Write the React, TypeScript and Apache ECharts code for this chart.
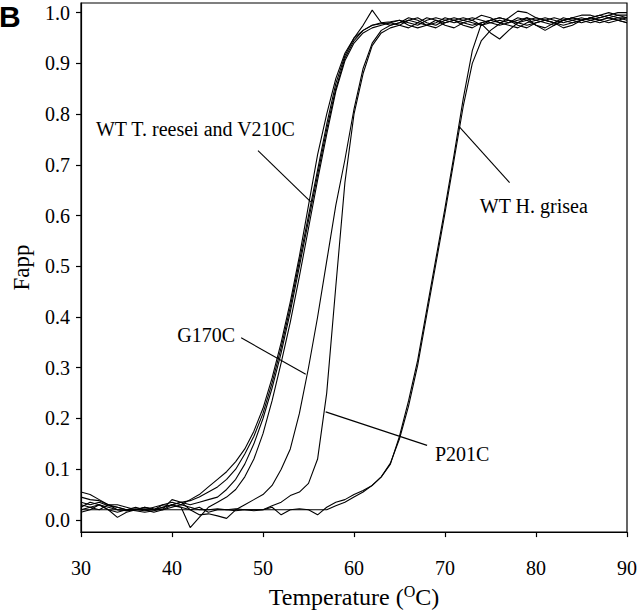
import React, { useEffect, useRef } from "react";
import * as echarts from "echarts";

// Temperature grid (°C)
const temperatures = [
  30, 31, 32, 33, 34, 35, 36, 37, 38, 39,
  40, 41, 42, 43, 44, 45, 46, 47, 48, 49,
  50, 51, 52, 53, 54, 55, 56, 57, 58, 59,
  60, 61, 62, 63, 64, 65, 66, 67, 68, 69,
  70, 71, 72, 73, 74, 75, 76, 77, 78, 79,
  80, 81, 82, 83, 84, 85, 86, 87, 88, 89,
  90,
];

// Fapp curves
const wtReeseiA = [
  0.055, 0.050, 0.040, 0.030, 0.025, 0.020, 0.022, 0.020, 0.025, 0.030,
  0.035, 0.030, 0.040, 0.050, 0.065, 0.080, 0.095, 0.115, 0.140, 0.175,
  0.220, 0.280, 0.350, 0.430, 0.520, 0.620, 0.720, 0.800, 0.870, 0.920,
  0.950, 0.975, 1.005, 0.980, 0.982, 0.985, 0.980, 0.975, 0.985, 0.990,
  0.985, 0.980, 0.985, 0.990, 0.985, 0.980, 0.975, 0.980, 0.985, 0.990,
  0.985, 0.980, 0.975, 0.985, 0.990, 0.985, 0.990, 0.995, 0.990, 0.985,
  0.990,
];
const wtReeseiB = [
  0.045, 0.040, 0.038, 0.030, 0.020, 0.018, 0.020, 0.022, 0.020, 0.025,
  0.030, 0.035, 0.038, 0.045, 0.055, 0.065, 0.080, 0.100, 0.130, 0.165,
  0.210, 0.270, 0.340, 0.420, 0.510, 0.600, 0.690, 0.780, 0.860, 0.915,
  0.950, 0.965, 0.975, 0.978, 0.980, 0.975, 0.970, 0.980, 0.990, 0.985,
  0.975, 0.970, 0.980, 0.985, 0.995, 0.990, 0.980, 0.985, 0.980, 0.975,
  0.980, 0.985, 0.990, 0.985, 0.980, 0.985, 0.990, 0.985, 0.990, 0.995,
  0.995,
];
const v210cA = [
  0.035, 0.030, 0.035, 0.028, 0.025, 0.020, 0.018, 0.015, 0.018, 0.022,
  0.040, 0.035, 0.030, 0.035, 0.040, 0.045, 0.060, 0.080, 0.110, 0.150,
  0.200, 0.260, 0.330, 0.410, 0.500, 0.590, 0.680, 0.770, 0.850, 0.910,
  0.945, 0.965, 0.975, 0.980, 0.975, 0.980, 0.985, 0.980, 0.975, 0.980,
  0.990, 0.985, 0.975, 0.970, 0.980, 0.985, 0.990, 0.985, 0.975, 0.970,
  0.980, 0.985, 0.980, 0.970, 0.975, 0.985, 0.990, 0.985, 0.980, 0.985,
  0.980,
];
const v210cB = [
  0.025, 0.035, 0.030, 0.020, 0.005, 0.015, 0.020, 0.025, 0.020, 0.025,
  0.030, 0.025, -0.015, 0.005, 0.025, 0.035, 0.045, 0.060, 0.085, 0.120,
  0.170, 0.235, 0.310, 0.390, 0.480, 0.575, 0.670, 0.760, 0.845, 0.905,
  0.940, 0.960, 0.970, 0.975, 0.980, 0.985, 0.975, 0.970, 0.975, 0.985,
  0.980, 0.985, 0.990, 0.985, 0.975, 0.980, 0.985, 0.980, 0.990, 0.985,
  0.975, 0.970, 0.980, 0.990, 0.985, 0.980, 0.985, 0.990, 0.995, 0.990,
  0.985,
];
const g170c = [
  0.020, 0.025, 0.030, 0.020, 0.015, 0.020, 0.025, 0.020, 0.015, 0.020,
  0.030, 0.035, 0.020, 0.010, 0.012, 0.008, 0.003, 0.020, 0.030, 0.040,
  0.050, 0.068, 0.100, 0.140, 0.210, 0.300, 0.400, 0.510, 0.620, 0.710,
  0.810, 0.890, 0.940, 0.965, 0.975, 0.980, 0.990, 0.985, 0.975, 0.970,
  0.980, 0.985, 0.980, 0.975, 0.980, 0.985, 0.980, 0.975, 0.970, 0.980,
  0.985, 0.990, 0.985, 0.980, 0.985, 0.990, 0.985, 0.980, 0.985, 0.990,
  0.990,
];
const p201c = [
  0.015, 0.020, 0.030, 0.025, 0.020, 0.018, 0.020, 0.025, 0.022, 0.020,
  0.025, 0.030, 0.025, 0.020, 0.020, 0.022, 0.020, 0.018, 0.020, 0.020,
  0.020, 0.028, 0.035, 0.048, 0.055, 0.072, 0.120, 0.250, 0.460, 0.665,
  0.800, 0.880, 0.935, 0.960, 0.970, 0.975, 0.985, 0.990, 0.980, 0.975,
  0.985, 0.990, 0.985, 0.980, 0.975, 0.985, 0.990, 0.985, 0.980, 0.985,
  0.990, 0.985, 0.980, 0.975, 0.980, 0.985, 0.980, 0.985, 0.990, 0.985,
  0.980,
];
const hGriseaA = [
  0.030, 0.025, 0.020, 0.030, 0.030, 0.025, 0.020, 0.018, 0.020, 0.030,
  0.028, 0.025, 0.020, 0.025, 0.015, 0.020, 0.020, 0.022, 0.020, 0.018,
  0.020, 0.025, 0.010, 0.020, 0.022, 0.020, 0.010, 0.025, 0.035, 0.040,
  0.050, 0.058, 0.068, 0.085, 0.110, 0.165, 0.235, 0.315, 0.415, 0.515,
  0.615, 0.720, 0.830, 0.925, 0.978, 0.960, 0.948, 0.965, 0.980, 0.990,
  0.975, 0.965, 0.975, 0.985, 0.990, 0.985, 0.990, 0.995, 1.000, 0.995,
  0.990,
];
const hGriseaB = [
  0.020, 0.020, 0.020, 0.020, 0.020, 0.020, 0.020, 0.020, 0.020, 0.020,
  0.020, 0.020, 0.020, 0.020, 0.020, 0.020, 0.020, 0.020, 0.020, 0.020,
  0.020, 0.020, 0.020, 0.020, 0.020, 0.020, 0.020, 0.020, 0.028, 0.035,
  0.045, 0.055, 0.068, 0.085, 0.112, 0.160, 0.225, 0.305, 0.405, 0.505,
  0.605, 0.710, 0.815, 0.900, 0.945, 0.965, 0.978, 0.990, 1.003, 1.000,
  0.990, 0.985, 0.980, 0.985, 0.990, 0.995, 0.995, 0.990, 0.995, 1.000,
  1.000,
];

const curves = [wtReeseiA, wtReeseiB, v210cA, v210cB, g170c, p201c, hGriseaA, hGriseaB];

const xTicks = [30, 40, 50, 60, 70, 80, 90];
const yTicks = [0, 0.1, 0.2, 0.3, 0.4, 0.5, 0.6, 0.7, 0.8, 0.9, 1.0];

// Annotation texts and their leader lines, in data coordinates
const annotationTexts = ["WT T. reesei and V210C", "G170C", "P201C", "WT H. grisea"];
const leaderFrom = [[49.45, 0.728], [47.6, 0.359], [56.89, 0.213], [71.53, 0.776]];
const leaderTo = [[55.25, 0.627], [54.7, 0.287], [68.03, 0.147], [77.1, 0.665]];
const textAnchor = [[31.64, 0.77], [46.94, 0.3645], [68.9, 0.1295], [73.83, 0.6188]];
const textAlignment = ["left", "right", "left", "left"];

const SERIF = "Liberation Serif";

export default function App() {
  const ref = useRef<HTMLDivElement>(null);
  useEffect(() => {
    if (!ref.current) return;
    const chart = echarts.init(ref.current, null, { renderer: "svg" });
    const lineStyle = { color: "#000", width: 1.1 };
    const curveSeries = curves.map((vals, k) => ({
      type: "line",
      name: "curve" + k,
      data: temperatures.map((t, i) => [t, vals[i]]),
      symbol: "none",
      showSymbol: false,
      silent: true,
      lineStyle,
    }));
    const leaderSeries = leaderFrom.map((f, k) => ({
      type: "line",
      name: "leader" + k,
      data: [f, leaderTo[k]],
      symbol: "none",
      showSymbol: false,
      silent: true,
      lineStyle: { color: "#000", width: 1.1 },
    }));
    const tickRich = { t: { fontFamily: SERIF, fontSize: 20, color: "#000" } };
    chart.setOption({
      animation: false,
      textStyle: { fontFamily: SERIF, color: "#000" },
      grid: {
        left: 81,
        right: 9,
        top: 3,
        bottom: 74,
        show: true,
        borderColor: "#000",
        borderWidth: 1.2,
        backgroundColor: "transparent",
      },
      xAxis: {
        type: "value",
        min: 30,
        max: 90,
        interval: 10,
        name: "{n|Temperature (}{sup|O}{n|C)}",
        nameLocation: "middle",
        nameGap: 44,
        nameTextStyle: {
          color: "#000",
          fontFamily: SERIF,
          fontSize: 24,
          rich: {
            n: { fontFamily: SERIF, fontSize: 24, color: "#000", lineHeight: 28 },
            sup: { fontFamily: SERIF, fontSize: 16, color: "#000", lineHeight: 16, verticalAlign: "top" },
          },
        },
        axisLine: { show: true, onZero: false, lineStyle: { color: "#000", width: 1.2 } },
        axisTick: { show: true, length: 5, lineStyle: { color: "#000", width: 1.2 } },
        axisLabel: {
          color: "#000",
          fontFamily: SERIF,
          fontSize: 20,
          margin: 26,
          formatter: (v: number) => `{t|${v}}`,
          rich: tickRich,
        },
        splitLine: { show: false },
      },
      yAxis: {
        type: "value",
        min: -0.024,
        max: 1.019,
        name: "Fapp",
        nameLocation: "middle",
        nameGap: 48,
        nameRotate: 90,
        nameTextStyle: { color: "#000", fontFamily: SERIF, fontSize: 23 },
        axisLine: { show: true, onZero: false, lineStyle: { color: "#000", width: 1.2 } },
        axisTick: { show: true, length: 5, customValues: yTicks, lineStyle: { color: "#000", width: 1.2 } },
        axisLabel: {
          customValues: yTicks,
          color: "#000",
          fontFamily: SERIF,
          fontSize: 20,
          margin: 11,
          formatter: (v: number) => `{t|${v.toFixed(1)}}`,
          rich: tickRich,
        },
        splitLine: { show: false },
      },
      series: [...curveSeries, ...leaderSeries],
    });

    const texts = annotationTexts.map((t, k) => {
      const p = chart.convertToPixel({ gridIndex: 0 }, textAnchor[k]) as number[];
      return {
        type: "text",
        x: p[0],
        y: p[1],
        silent: true,
        style: {
          text: t,
          fill: "#000",
          fontFamily: SERIF,
          fontSize: 20,
          align: textAlignment[k],
          verticalAlign: "middle",
        },
      };
    });
    chart.setOption({
      graphic: [
        ...texts,
        {
          type: "text",
          x: -1,
          y: 1,
          silent: true,
          style: {
            text: "B",
            fill: "#000",
            fontFamily: "Liberation Sans",
            fontWeight: "bold",
            fontSize: 30,
            align: "left",
            verticalAlign: "top",
          },
        },
      ],
    });
    return () => chart.dispose();
  }, []);
  return (
    <div
      ref={ref}
      style={{ position: "absolute", left: 0, top: 0, width: 640, height: 614, background: "#fff" }}
    />
  );
}
